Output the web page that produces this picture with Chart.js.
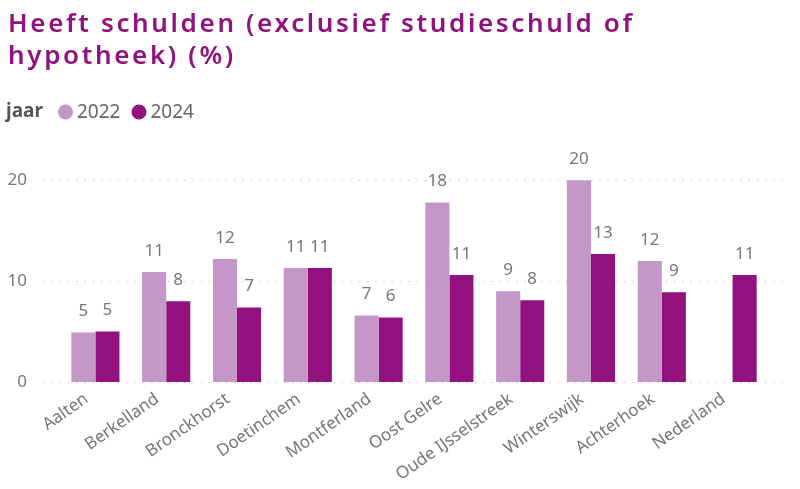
<!DOCTYPE html>
<html>
<head>
<meta charset="utf-8">
<script src="https://cdn.jsdelivr.net/npm/chart.js@4.4.1/dist/chart.umd.min.js"></script>
<style>
  body { margin: 0; background: #fff; }
</style>
</head>
<body>
<canvas id="chart" width="800" height="489"></canvas>
<script>
const categories = ['Aalten', 'Berkelland', 'Bronckhorst', 'Doetinchem', 'Montferland',
  'Oost Gelre', 'Oude IJsselstreek', 'Winterswijk', 'Achterhoek', 'Nederland'];
const values2022 = [4.9, 10.9, 12.2, 11.3, 6.6, 17.8, 9.0, 20.0, 12.0, null];
const values2024 = [5.0, 8.0, 7.4, 11.3, 6.4, 10.6, 8.1, 12.7, 8.9, 10.6];
const yTicks = [0, 10, 20];
const titleLines = ['Heeft schulden (exclusief studieschuld of', 'hypotheek) (%)'];

const light = '#c497c8';
const dark = '#93117e';
const font = 'Noto Sans';

// title + legend line, drawn at the top
const header = {
  id: 'header',
  afterDraw(chart) {
    const c = chart.ctx;
    c.save();
    c.fillStyle = dark;
    c.font = '600 26px "' + font + '"';
    c.textBaseline = 'alphabetic';
    // the original title font is wider, spread the letters to the same width
    const w = c.measureText(titleLines[0]).width;
    c.letterSpacing = Math.max(0, (627 - w) / titleLines[0].length).toFixed(2) + 'px';
    c.fillText(titleLines[0], 8, 32);
    c.fillText(titleLines[1], 8, 63.5);
    c.letterSpacing = '0px';

    c.textBaseline = 'middle';
    c.font = 'bold 19px "' + font + '"';
    c.fillStyle = '#555';
    c.fillText('jaar', 6, 112);
    let x = 58;
    c.font = '19px "' + font + '"';
    chart.data.datasets.forEach(ds => {
      c.fillStyle = ds.backgroundColor;
      c.beginPath();
      c.arc(x + 7.5, 112, 7.5, 0, Math.PI * 2);
      c.fill();
      c.fillStyle = '#666';
      c.fillText(ds.label, x + 19, 113);
      x += 19 + c.measureText(ds.label).width + 11;
    });
    c.restore();
  }
};

// dotted horizontal grid lines, a bit wider than the plot area
const dottedGrid = {
  id: 'dottedGrid',
  beforeDatasetsDraw(chart) {
    const c = chart.ctx, y = chart.scales.y;
    c.save();
    c.strokeStyle = '#c8c8c8';
    c.lineWidth = 1.2;
    c.setLineDash([1.5, 6.8]);
    yTicks.forEach(t => {
      const py = Math.round(y.getPixelForValue(t)) + 0.5;
      c.beginPath();
      c.moveTo(43, py);
      c.lineTo(787, py);
      c.stroke();
    });
    c.restore();
  }
};

// value labels above the bars
const barLabels = {
  id: 'barLabels',
  afterDatasetsDraw(chart) {
    const c = chart.ctx;
    c.save();
    c.font = '17px "' + font + '"';
    c.fillStyle = '#777';
    c.textAlign = 'center';
    c.textBaseline = 'middle';
    chart.data.datasets.forEach((ds, i) => {
      chart.getDatasetMeta(i).data.forEach((bar, j) => {
        const v = ds.data[j];
        if (v == null) return;
        c.fillText(Math.round(v), bar.x, bar.y - 21);
      });
    });
    c.restore();
  }
};

new Chart(document.getElementById('chart'), {
  type: 'bar',
  data: {
    labels: categories,
    datasets: [
      { label: '2022', data: values2022, backgroundColor: light },
      { label: '2024', data: values2024, backgroundColor: dark }
    ]
  },
  options: {
    responsive: false,
    animation: false,
    categoryPercentage: 0.68,
    barPercentage: 1.0,
    layout: { padding: { top: 140, right: 32, left: 0, bottom: 0 } },
    plugins: {
      legend: { display: false },
      title: { display: false },
      tooltip: { enabled: false }
    },
    scales: {
      x: {
        grid: { display: false, drawTicks: false },
        border: { display: false },
        ticks: {
          font: { family: font, size: 17 },
          color: '#777',
          minRotation: 35,
          maxRotation: 35,
          labelOffset: -9,
          padding: 7
        },
        afterFit(scale) { scale.height = 107; }
      },
      y: {
        min: 0,
        max: 24,
        grid: { display: false, drawTicks: false },
        border: { display: false },
        ticks: {
          stepSize: 10,
          includeBounds: false,
          font: { family: font, size: 17 },
          color: '#777',
          padding: 33
        },
        afterFit(scale) { scale.width = 60; }
      }
    }
  },
  plugins: [header, dottedGrid, barLabels]
});
</script>
</body>
</html>
